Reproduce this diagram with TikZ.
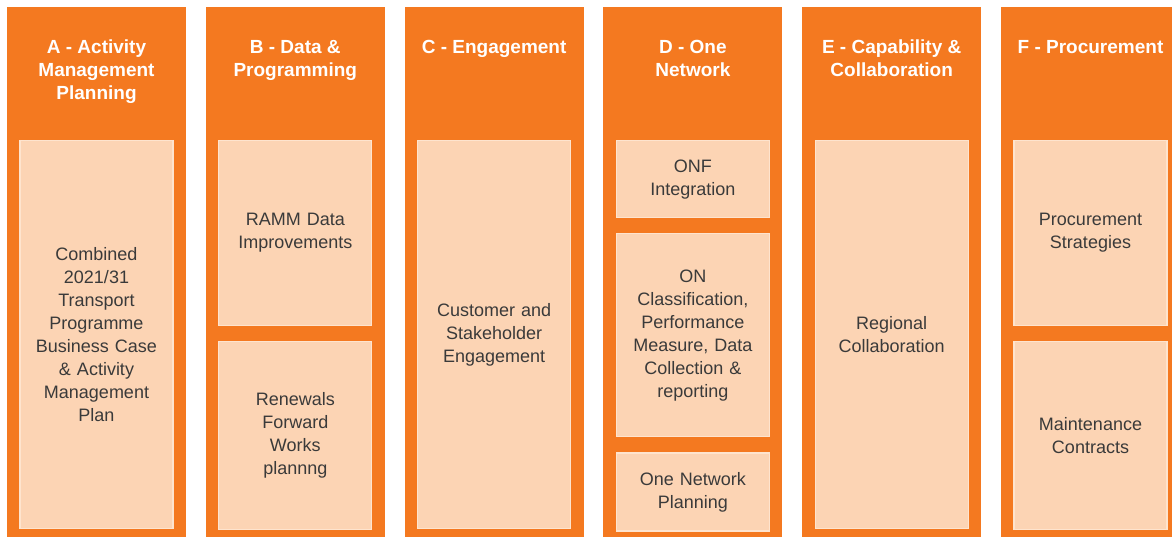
\documentclass[tikz,border=0pt]{standalone}
\usepackage{fontspec}
\setmainfont{Liberation Sans}
\usetikzlibrary{positioning}
\definecolor{bandorange}{HTML}{F47920}
\definecolor{peach}{HTML}{FCD4B4}
\definecolor{peachline}{HTML}{FEE4CE}
\definecolor{textgray}{HTML}{3A3A3A}

\begin{document}
\begin{tikzpicture}[x=1pt, y=1pt,
    column/.style={fill=bandorange, inner sep=0pt, outer sep=0pt, minimum width=179pt, minimum height=530pt, anchor=north west},
    heading/.style={text=white, font=\bfseries\fontsize{19}{23}\selectfont, align=center, anchor=north, inner sep=0pt},
    cell/.style={fill=peach, draw=peachline, line width=1.2pt, minimum width=153pt, text width=150pt, align=center,
        text=textgray, font=\fontsize{18}{23}\selectfont, inner sep=0pt, anchor=north}]
    \useasboundingbox (0,0) rectangle (1176,-538);
    % columns
    \node[column] (colA) at (7,-7) {};
    \node[column] (colB) [right=19.8pt of colA] {};
    \node[column] (colC) [right=19.8pt of colB] {};
    \node[column] (colD) [right=19.8pt of colC] {};
    \node[column] (colE) [right=19.8pt of colD] {};
    \node[column, minimum width=171pt] (colF) [right=19.8pt of colE] {};
    % headings
    \node[heading] (hA) at ([yshift=-33pt]colA.north) {A - Activity\\Management\\Planning};
    \node[heading] (hB) at ([yshift=-33pt]colB.north) {B - Data \&\\Programming};
    \node[heading] (hC) at ([yshift=-33pt]colC.north) {C - Engagement};
    \node[heading] (hD) at ([yshift=-33pt]colD.north) {D - One\\Network};
    \node[heading] (hE) at ([yshift=-33pt]colE.north) {E - Capability \&\\Collaboration};
    \node[heading] (hF) at ([yshift=-33pt, xshift=4pt]colF.north) {F - Procurement};
    % cells
    \node[cell, minimum height=388pt] (cA) [below=133pt of colA.north] {Combined\\2021/31\\Transport\\Programme\\Business Case\\\& Activity\\Management\\Plan};
    \node[cell, minimum height=185pt] (cB1) [below=133pt of colB.north] {RAMM Data\\Improvements};
    \node[cell, minimum height=188pt] (cB2) [below=15pt of cB1] {Renewals\\Forward\\Works\\plannng};
    \node[cell, minimum height=388pt] (cC) [below=133pt of colC.north] {Customer and\\Stakeholder\\Engagement};
    \node[cell, minimum height=77pt] (cD1) [below=133pt of colD.north] {ONF\\Integration};
    \node[cell, minimum height=203pt] (cD2) [below=15pt of cD1] {ON\\Classification,\\Performance\\Measure, Data\\Collection \&\\reporting};
    \node[cell, minimum height=78pt] (cD3) [below=15pt of cD2] {One Network\\Planning};
    \node[cell, minimum height=388pt] (cE) [below=133pt of colE.north] {Regional\\Collaboration};
    \node[cell, minimum height=185pt] (cF1) [below=133pt of colF.north, xshift=4pt] {Procurement\\Strategies};
    \node[cell, minimum height=188pt] (cF2) [below=15pt of cF1] {Maintenance\\Contracts};
\end{tikzpicture}
\end{document}
